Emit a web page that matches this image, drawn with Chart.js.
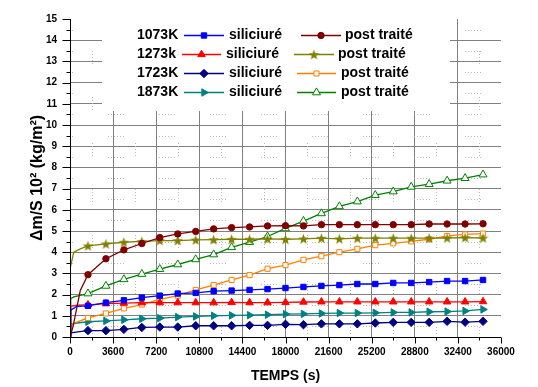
<!DOCTYPE html>
<html><head><meta charset="utf-8">
<script src="https://cdn.jsdelivr.net/npm/chart.js@4/dist/chart.umd.min.js"></script>
<style>html,body{margin:0;padding:0;background:#fff}#wrap{width:538px;height:387px}</style>
</head><body><div id="wrap"><canvas id="c" width="538" height="387"></canvas></div>
<script>
// ---------- data ----------
const markerTimes = [1500,3000,4500,6000,7500,9000,10500,12000,13500,15000,16500,18000,19500,21000,22500,24000,25500,27000,28500,30000,31500,33000,34500];

const tempLabels = ['1073K','1273k','1723K','1873K'];
const seriesLabels = ['siliciuré','post traité'];

const sil1073EarlyT = [0, 60, 600];
const sil1073EarlyV = [0, 1.27, 1.45];
const sil1073V = [1.47,1.62,1.73,1.86,1.95,2.05,2.08,2.16,2.19,2.22,2.26,2.31,2.36,2.41,2.45,2.50,2.50,2.55,2.55,2.59,2.64,2.64,2.69];

const post1073EarlyT = [0, 250, 860];
const post1073EarlyV = [0, 0.48, 2.20];
const post1073V = [2.94,3.69,4.11,4.41,4.69,4.86,4.98,5.10,5.16,5.19,5.24,5.25,5.24,5.30,5.30,5.30,5.30,5.30,5.30,5.33,5.33,5.33,5.34];

const sil1273EarlyT = [0, 60, 600];
const sil1273EarlyV = [0, 1.45, 1.50];
const sil1273V = [1.52,1.57,1.60,1.62,1.62,1.62,1.62,1.62,1.63,1.62,1.62,1.63,1.65,1.66,1.66,1.66,1.66,1.66,1.66,1.66,1.66,1.66,1.67];

const post1273EarlyT = [0, 25, 310, 860];
const post1273EarlyV = [0, 3.27, 4.00, 4.16];
const post1273V = [4.30,4.39,4.47,4.51,4.55,4.55,4.58,4.59,4.61,4.61,4.63,4.61,4.63,4.66,4.63,4.66,4.66,4.66,4.66,4.66,4.67,4.69,4.67];

const sil1723EarlyT = [0, 100, 800];
const sil1723EarlyV = [0, 0.20, 0.25];
const sil1723V = [0.30,0.30,0.36,0.45,0.47,0.47,0.53,0.53,0.53,0.55,0.55,0.60,0.58,0.62,0.62,0.62,0.66,0.69,0.69,0.69,0.74,0.70,0.74];

const post1723EarlyT = [0, 60, 310];
const post1723EarlyV = [0, 0.50, 0.64];
const post1723V = [0.90,1.11,1.35,1.53,1.77,1.95,2.22,2.45,2.69,2.92,3.22,3.39,3.64,3.81,4.00,4.16,4.33,4.42,4.51,4.61,4.77,4.84,4.88];

const sil1873EarlyT = [0, 60, 600];
const sil1873EarlyV = [0, 0.60, 0.66];
const sil1873V = [0.72,0.76,0.81,0.86,0.89,0.94,0.97,1.00,1.02,1.03,1.05,1.08,1.09,1.11,1.13,1.13,1.14,1.16,1.16,1.19,1.20,1.23,1.30];

const post1873EarlyT = [0, 60, 310];
const post1873EarlyV = [0, 1.81, 1.89];
const post1873V = [2.05,2.41,2.72,2.97,3.20,3.42,3.66,3.89,4.23,4.47,4.74,5.12,5.47,5.83,6.16,6.39,6.69,6.86,7.08,7.21,7.37,7.49,7.66];

const xTickStep = 3600, xMax = 36000;
const yTickStep = 1, yMax = 15;

// ---------- styles ----------
function makeStar(color, size){
  const c = document.createElement('canvas'); c.width = c.height = size;
  const g = c.getContext('2d'); g.fillStyle = color; g.beginPath();
  const cx = size/2, cy = size/2 + 0.5, R = size/2, r = R*0.42;
  for (let i=0;i<10;i++){ const a = -Math.PI/2 + i*Math.PI/5; const rr = (i%2)?r:R; g.lineTo(cx+rr*Math.cos(a), cy+rr*Math.sin(a)); }
  g.closePath(); g.fill(); return c;
}
const starImg = makeStar('#808000', 11);

function build(et, ev, mv){
  const pts = [];
  et.forEach((t,i)=>pts.push({x:t, y:ev[i], m:false}));
  markerTimes.forEach((t,i)=>pts.push({x:t, y:mv[i], m:true}));
  return pts;
}
function ds(label, data, color, style, r, open, rot){
  return {
    label, data, borderColor: color, borderWidth: 1.3,
    pointStyle: style, pointRotation: rot||0,
    pointRadius: data.map(p=>p.m ? r : 0),
    pointBackgroundColor: open ? '#ffffff' : color,
    pointBorderColor: color, pointBorderWidth: 1,
    tension: 0, fill: false, _open: open, _r: r
  };
}
const datasets = [
  ds('1073K siliciuré', build(sil1073EarlyT, sil1073EarlyV, sil1073V), '#0000ff', 'rect', 3.8, false),
  ds('1073K post traité', build(post1073EarlyT, post1073EarlyV, post1073V), '#800000', 'circle', 3.2, false),
  ds('1273k siliciuré', build(sil1273EarlyT, sil1273EarlyV, sil1273V), '#ff0000', 'triangle', 4.3, false),
  ds('1273k post traité', build(post1273EarlyT, post1273EarlyV, post1273V), '#808000', starImg, 5, false),
  ds('1723K siliciuré', build(sil1723EarlyT, sil1723EarlyV, sil1723V), '#000080', 'rectRot', 4.2, false),
  ds('1723K post traité', build(post1723EarlyT, post1723EarlyV, post1723V), '#ff8000', 'rect', 3.6, true),
  ds('1873K siliciuré', build(sil1873EarlyT, sil1873EarlyV, sil1873V), '#008080', 'triangle', 4.3, false, 90),
  ds('1873K post traité', build(post1873EarlyT, post1873EarlyV, post1873V), '#008000', 'triangle', 4.6, true)
];

// ---------- plugins ----------
const minorGrid = {
  id: 'minorGrid',
  beforeDatasetsDraw(chart){
    const {ctx, chartArea:a, scales:{x,y}} = chart;
    ctx.save();
    ctx.beginPath(); ctx.rect(a.left+1, a.top, a.right-a.left-1, a.bottom-a.top-1); ctx.clip();
    ctx.strokeStyle = '#b8b8b8'; ctx.lineWidth = 1; ctx.setLineDash([1,2]);
    ctx.beginPath();
    for (let v=yTickStep/2; v<yMax; v+=yTickStep){
      const py = Math.round(y.getPixelForValue(v))+0.5;
      for (let sx=a.left+38-51; sx<a.right; sx+=51){ ctx.moveTo(sx,py); ctx.lineTo(sx+17,py); }
    }
    for (let t=xTickStep/2; t<xMax; t+=xTickStep){
      const px = Math.round(x.getPixelForValue(t))+0.5;
      for (let sy=a.top+32-46; sy<a.bottom; sy+=46){ ctx.moveTo(px,sy); ctx.lineTo(px,sy+14); }
    }
    ctx.stroke();
    ctx.restore();
    // legend background box
    ctx.save(); ctx.fillStyle = '#ffffff';
    ctx.fillRect(102, a.top, 348, 111 - a.top);
    ctx.restore();
  }
};

const axisTicks = {
  id: 'axisTicks',
  afterDraw(chart){
    const {ctx, chartArea:a, scales:{x,y}} = chart;
    ctx.save(); ctx.strokeStyle = '#000'; ctx.lineWidth = 1; ctx.beginPath();
    const L = Math.round(a.left)+0.5, B = Math.round(a.bottom)+0.5;
    ctx.moveTo(L, a.top); ctx.lineTo(L, B);
    ctx.moveTo(L, B); ctx.lineTo(a.right, B);
    for (let v=0; v<=yMax; v+=yTickStep/2){
      const py = Math.round(y.getPixelForValue(v))+0.5;
      const len = (Math.abs(v % yTickStep) < 1e-9) ? 8 : 4;
      ctx.moveTo(L-len, py); ctx.lineTo(L, py);
    }
    for (let t=0; t<=xMax; t+=xTickStep/2){
      const px = Math.round(x.getPixelForValue(t))+0.5;
      const len = (t % xTickStep === 0) ? 6 : 3;
      ctx.moveTo(px, B); ctx.lineTo(px, B+len);
    }
    ctx.stroke(); ctx.restore();
  }
};

const legendRows = [
  {y:34.5, lx:137, s1:[184,224], st:229, s2:[301,341], pt:345},
  {y:54,   lx:137, s1:[182,221], st:226, s2:[294,334], pt:338},
  {y:73,   lx:137, s1:[184,224], st:229, s2:[297,336], pt:341},
  {y:92,   lx:137, s1:[184,224], st:229, s2:[297,336], pt:341}
];
const customLegend = {
  id: 'customLegend',
  afterDraw(chart){
    const ctx = chart.ctx;
    ctx.save();
    ctx.font = 'bold 14px "Liberation Sans", Arial, sans-serif';
    ctx.textBaseline = 'middle'; ctx.textAlign = 'left'; ctx.fillStyle = '#000';
    legendRows.forEach((row, i) => {
      ctx.fillStyle = '#000';
      ctx.fillText(tempLabels[i], row.lx, row.y+0.5);
      ctx.fillText(seriesLabels[0], row.st, row.y+0.5);
      ctx.fillText(seriesLabels[1], row.pt, row.y+0.5);
      [[datasets[2*i], row.s1], [datasets[2*i+1], row.s2]].forEach(([d, seg]) => {
        const ly = Math.round(row.y)+0.5;
        ctx.strokeStyle = d.borderColor; ctx.lineWidth = 1.3;
        ctx.beginPath(); ctx.moveTo(seg[0], ly); ctx.lineTo(seg[1], ly); ctx.stroke();
        ctx.fillStyle = d.pointBackgroundColor; ctx.strokeStyle = d.pointBorderColor; ctx.lineWidth = 1;
        Chart.helpers.drawPoint(ctx, {pointStyle: d.pointStyle, rotation: d.pointRotation, radius: d._r, borderWidth: 1}, (seg[0]+seg[1])/2, ly);
      });
    });
    ctx.restore();
  }
};

const tickFont = {family: '"Liberation Sans Narrow", "Liberation Sans", Arial, sans-serif', weight: 'bold', size: 10};

new Chart(document.getElementById('c'), {
  type: 'line',
  data: { datasets },
  options: {
    responsive: false, animation: false, events: [],
    layout: { padding: { left: 0, right: 37, top: 17, bottom: 0 } },
    plugins: { legend: { display: false }, tooltip: { enabled: false } },
    scales: {
      x: {
        type: 'linear', min: 0, max: xMax,
        afterFit(s){ s.height = 50; },
        ticks: { stepSize: xTickStep, autoSkip: false, maxRotation: 0, padding: 9, color: '#000', font: tickFont, callback: v => String(v) },
        grid: { drawTicks: false, lineWidth: 1, color: c => (c.tick && (c.tick.value === 0 || c.tick.value === xMax)) ? 'rgba(0,0,0,0)' : '#808080' },
        border: { display: false },
        title: { display: true, text: 'TEMPS (s)', color: '#000', font: {family: '"Liberation Sans", Arial, sans-serif', weight: 'bold', size: 14}, padding: {top: 0, bottom: 2} }
      },
      y: {
        min: 0, max: yMax,
        afterFit(s){ s.width = 70; },
        ticks: { stepSize: yTickStep, autoSkip: false, padding: 13, color: '#000', font: tickFont, callback: v => String(v) },
        grid: { drawTicks: false, lineWidth: 1, color: c => (c.tick && (c.tick.value === 0 || c.tick.value === yMax)) ? 'rgba(0,0,0,0)' : '#808080' },
        border: { display: false },
        title: { display: true, text: 'Δm/S 10² (kg/m²)', color: '#000', font: {family: '"Liberation Sans", Arial, sans-serif', weight: 'bold', size: 16}, padding: {top: 28, bottom: 0} }
      }
    }
  },
  plugins: [minorGrid, axisTicks, customLegend]
});
</script>
</body></html>
